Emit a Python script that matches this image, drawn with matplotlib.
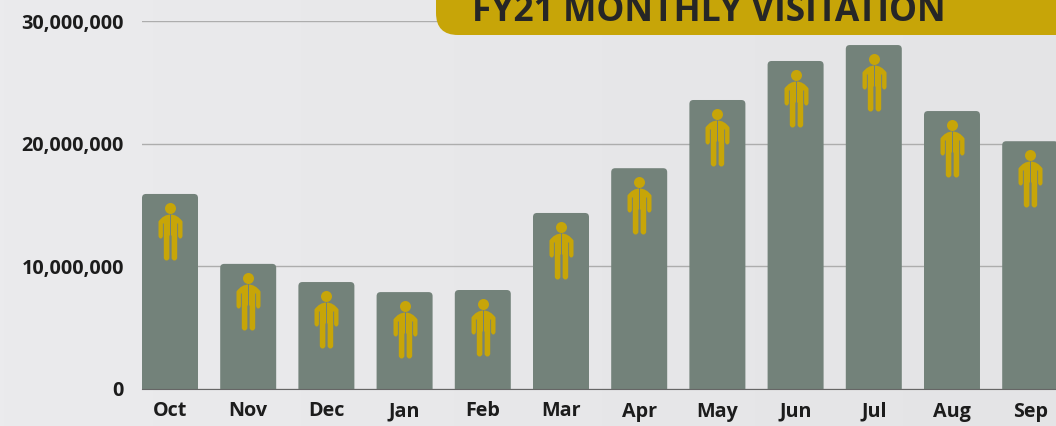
import matplotlib

matplotlib.use("Agg")

import matplotlib.pyplot as plt
import numpy as np
from matplotlib.patches import FancyBboxPatch
from matplotlib.path import Path
from matplotlib.ticker import FuncFormatter
from matplotlib.transforms import IdentityTransform

months = ["Oct", "Nov", "Dec", "Jan", "Feb", "Mar", "Apr", "May", "Jun", "Jul", "Aug", "Sep"]
visits = [
    15900000, 10200000, 8720000, 7900000, 8070000, 14350000,
    18000000, 23560000, 26740000, 28040000, 22660000, 20200000,
]
y_ticks = [0, 10000000, 20000000, 30000000]
title = "FY21 MONTHLY VISITATION"

BAR = "#73827a"
GOLD = "#c7a508"
INK = "#1c1c1c"
W, H = 1056, 426
FONT = "Open Sans"


def person_marker():
    # drawn in pixels, origin on the top of the bar, y going down
    head = Path.unit_circle()
    head = Path(head.vertices * 5.5 + [0, -14], head.codes)
    half = [
        (0, 20), (7, 20), (12, 27), (12, 31), (12, 41), (12, 44), (9.8, 44),
        (7.6, 44), (7.6, 41), (7.6, 29), (6.7, 29), (6.7, 63), (6.7, 66),
        (3.9, 66), (1.1, 66), (1.1, 63), (1.1, 41), (0, 41),
    ]
    half_codes = [
        Path.LINETO, Path.CURVE3, Path.CURVE3, Path.LINETO, Path.LINETO, Path.CURVE3, Path.CURVE3,
        Path.CURVE3, Path.CURVE3, Path.LINETO, Path.LINETO, Path.LINETO, Path.CURVE3,
        Path.CURVE3, Path.CURVE3, Path.CURVE3, Path.LINETO, Path.LINETO,
    ]
    right = np.array(half, float) * [1, -1]
    left = right * [-1, 1]
    body = Path(np.vstack([right, left]), [Path.MOVETO] + half_codes[1:] + [Path.MOVETO] + half_codes[1:])
    return Path.make_compound_path(head, body)


fig = plt.figure(figsize=(W / 100, H / 100), dpi=100)

bg = fig.add_axes([0, 0, 1, 1], zorder=0)
bg.imshow(np.linspace(0, 1, 256).reshape(1, -1), cmap=matplotlib.colors.LinearSegmentedColormap.from_list(
    "bg", ["#ebebed", "#e4e4e6"]), aspect="auto")
bg.axis("off")

ax = fig.add_axes([142 / W, (H - 389) / H, (W - 142) / W, 368 / H], zorder=1)
ax.patch.set_alpha(0)
ax.set_xlim(-0.358, 11.33)
ax.set_ylim(0, 30000000)

x = np.arange(len(months))
px_x = 1 / 78.2
px_y = 30000000 / 368
for xi, v in zip(x, visits):
    ax.add_patch(FancyBboxPatch(
        (xi - 0.358, -500000), 0.716, v + 500000,
        boxstyle=f"round,pad=0,rounding_size={4 * px_x}",
        mutation_aspect=px_y / px_x,
        facecolor=BAR, edgecolor="none", zorder=3,
    ))

ax.plot(x, visits, linestyle="none", marker=person_marker(), markersize=132 * 72 / 100,
        markerfacecolor=GOLD, markeredgecolor="none", zorder=4, clip_on=False)

ax.set_yticks(y_ticks)
ax.yaxis.set_major_formatter(FuncFormatter(lambda v, _: f"{int(v):,}"))
ax.set_xticks(x, months)
ax.grid(axis="y", color="#adadad", linewidth=1, zorder=1)
ax.set_axisbelow(True)
for name in ["top", "right", "left"]:
    ax.spines[name].set_visible(False)
ax.spines["bottom"].set_color("#666666")
ax.spines["bottom"].set_zorder(5)
ax.tick_params(axis="both", length=0, labelcolor=INK)
ax.tick_params(axis="x", pad=9)
ax.tick_params(axis="y", pad=13)
for label in ax.get_xticklabels() + ax.get_yticklabels():
    label.set_fontfamily(FONT)
    label.set_fontweight("bold")
    label.set_fontsize(14.2)

badge = FancyBboxPatch(
    (436, H - 35), 900, 200,
    boxstyle="round,pad=0,rounding_size=22",
    transform=IdentityTransform(),
    facecolor=GOLD, edgecolor="none", zorder=6,
)
fig.add_artist(badge)
fig.text(472 / W, (H - 21) / H, title, family=FONT, fontweight="bold", fontsize=25.5,
         color="#262626", ha="left", va="baseline", zorder=7)

fig.savefig("out.png", dpi=100)
plt.close(fig)
